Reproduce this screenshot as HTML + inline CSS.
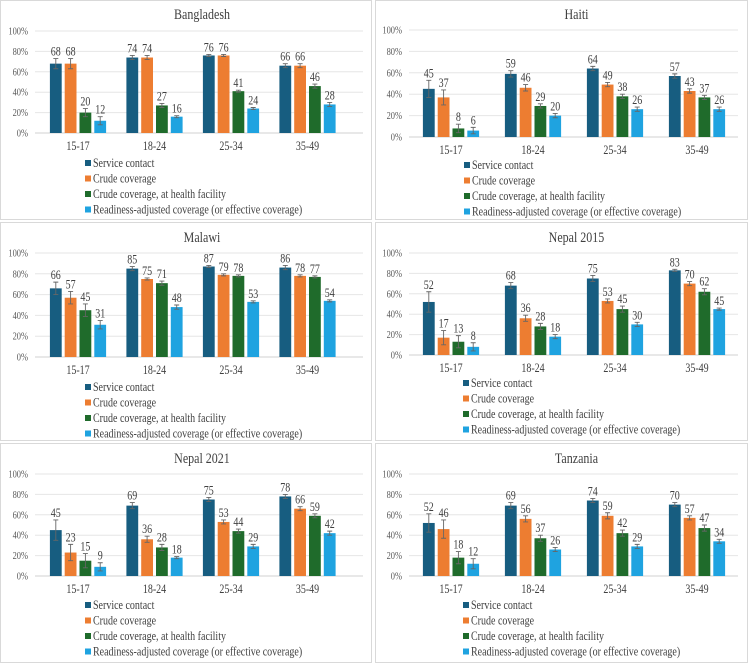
<!DOCTYPE html>
<html><head><meta charset="utf-8"><style>
html,body{margin:0;padding:0;background:#fff;}
svg{display:block;}
svg text{font-family:"Liberation Serif","Times New Roman",serif;}
</style></head><body>
<svg id="c" width="750" height="665" viewBox="0 0 750 665" font-family="Liberation Serif, serif"></svg>
<script>
const categories = ["15-17","18-24","25-34","35-49"];
const seriesNames = ["Service contact","Crude coverage","Crude coverage, at health facility","Readiness-adjusted coverage (or effective coverage)"];
const yTicks = [0,20,40,60,80,100];
const bangladeshValues = [[68,68,20,12],[74,74,27,16],[76,76,41,24],[66,66,46,28]];
const bangladeshErrors = [[5,5,4,4],[2,2,2,1],[1,1,1,1],[2,2,2,2]];
const haitiValues = [[45,37,8,6],[59,46,29,20],[64,49,38,26],[57,43,37,26]];
const haitiErrors = [[8,7,4,3],[3,3,2,2],[2,2,2,2],[2,2,2,2]];
const malawiValues = [[66,57,45,31],[85,75,71,48],[87,79,78,53],[86,78,77,54]];
const malawiErrors = [[6,6,6,4],[2,1,2,2],[1,1,1,1],[2,1,1,1]];
const nepal2015Values = [[52,17,13,8],[68,36,28,18],[75,53,45,30],[83,70,62,45]];
const nepal2015Errors = [[10,7,6,4],[3,3,3,2],[3,2,3,2],[1,2,3,1]];
const nepal2021Values = [[45,23,15,9],[69,36,28,18],[75,53,44,29],[78,66,59,42]];
const nepal2021Errors = [[10,8,7,4],[3,3,3,1],[2,2,2,2],[2,2,2,2]];
const tanzaniaValues = [[52,46,18,12],[69,56,37,26],[74,59,42,29],[70,57,47,34]];
const tanzaniaErrors = [[9,9,6,5],[3,3,3,2],[2,3,3,2],[2,2,3,2]];

const colors = ["#175d80","#ed7d31","#1f6b2b","#1fa3e0"];
const NS = "http://www.w3.org/2000/svg";
const svg = document.getElementById("c");
const SQUEEZE = 0.8;
function mk(tag, attrs, parent){const e=document.createElementNS(NS,tag);for(const k in attrs)e.setAttribute(k,attrs[k]);if(tag==="text")e.setAttribute("font-family","Liberation Serif, serif");(parent||svg).appendChild(e);return e;}
function squeeze(t){const w=t.getComputedTextLength();if(w>0){t.setAttribute("textLength",(w*SQUEEZE).toFixed(2));t.setAttribute("lengthAdjust","spacingAndGlyphs");}}

const panels = [
 {title:"Bangladesh", vals:bangladeshValues, errs:bangladeshErrors, px:0, py:0, pw:372, ph:220, ty:19, y0:133, y100:31, gx0:35, gx1:363, c0:78, step:76.5, lx:88, ly:163, name:"bangladesh"},
 {title:"Haiti", vals:haitiValues, errs:haitiErrors, px:375, py:0, pw:373, ph:220, ty:19, y0:137, y100:30, gx0:409, gx1:738, c0:451, step:82, lx:467, ly:165, name:"haiti"},
 {title:"Malawi", vals:malawiValues, errs:malawiErrors, px:0, py:222, pw:372, ph:219, ty:242, y0:357, y100:253, gx0:35, gx1:363, c0:78, step:76.5, lx:88, ly:387, name:"malawi"},
 {title:"Nepal 2015", vals:nepal2015Values, errs:nepal2015Errors, px:375, py:222, pw:373, ph:219, ty:242, y0:355, y100:253, gx0:409, gx1:738, c0:451, step:82, lx:466, ly:383, name:"nepal-2015"},
 {title:"Nepal 2021", vals:nepal2021Values, errs:nepal2021Errors, px:0, py:443, pw:372, ph:220, ty:463, y0:576, y100:474, gx0:35, gx1:363, c0:78, step:76.5, lx:88, ly:605, name:"nepal-2021"},
 {title:"Tanzania", vals:tanzaniaValues, errs:tanzaniaErrors, px:375, py:443, pw:373, ph:220, ty:463, y0:576, y100:474, gx0:409, gx1:738, c0:451, step:82, lx:466, ly:605, name:"tanzania"}
];

panels.forEach(p=>{
  const g = mk("g",{});
  
  
  const border = mk("rect",{x:p.px+0.5,y:p.py+0.5,width:p.pw-1,height:p.ph-1,fill:"#fff",stroke:"#d9d9d9","stroke-width":1},g);
  
  
  const t = mk("text",{x:(p.gx0+p.gx1)/2+3,y:p.ty,"text-anchor":"middle","font-size":"15",fill:"#404040"},g);
  t.textContent = p.title;
  
  
  squeeze(t);
  const yS = v => p.y0 - (p.y0-p.y100)*v/100;
  yTicks.forEach(v=>{
    const l = mk("line",{x1:p.gx0,x2:p.gx1,y1:yS(v),y2:yS(v),stroke:v===0?"#d0d0d0":"#e6e6e6","stroke-width":1},g);
    
    
    const lt = mk("text",{x:p.gx0-7,y:yS(v)+3.5,"text-anchor":"end","font-size":"10.5",fill:"#595959"},g);
    lt.textContent = v+"%";
    
    
    squeeze(lt);
  });
  const bw = 11.8, pitch = 14.8;
  categories.forEach((cat,ci)=>{
    const cx = p.c0 + ci*p.step;
    const ct = mk("text",{x:cx,y:p.y0+17,"text-anchor":"middle","font-size":"12.5",fill:"#404040"},g);
    ct.textContent = cat;
    
    
    squeeze(ct);
    p.vals[ci].forEach((v,si)=>{
      const x = cx + (si-1.5)*pitch - bw/2;
      const r = mk("rect",{x:x,y:yS(v),width:bw,height:yS(0)-yS(v),fill:colors[si]},g);
      
      
      const e = p.errs[ci][si];
      const mx = x+bw/2;
      const ep = mk("path",{d:`M${mx},${yS(v+e)}V${yS(v-e)}M${mx-2.5},${yS(v+e)}H${mx+2.5}M${mx-2.5},${yS(v-e)}H${mx+2.5}`,stroke:"#666","stroke-width":0.9,fill:"none"},g);
      
      
      const vl = mk("text",{x:mx,y:yS(v+e)-3,"text-anchor":"middle","font-size":"12.5",fill:"#404040"},g);
      vl.textContent = v;
      
      
      squeeze(vl);
    });
  });
  const lstep = [0,15.5,31,46.5];
  seriesNames.forEach((s,si)=>{
    const lg = mk("g",{},g);
    
    
    mk("rect",{x:p.lx-3,y:p.ly+lstep[si]-3,width:6,height:6,fill:colors[si]},lg);
    const lt = mk("text",{x:p.lx+5,y:p.ly+lstep[si]+4,"font-size":"12.5",fill:"#404040"},lg);
    lt.textContent = s;
    squeeze(lt);
  });
});
</script>
</body></html>
